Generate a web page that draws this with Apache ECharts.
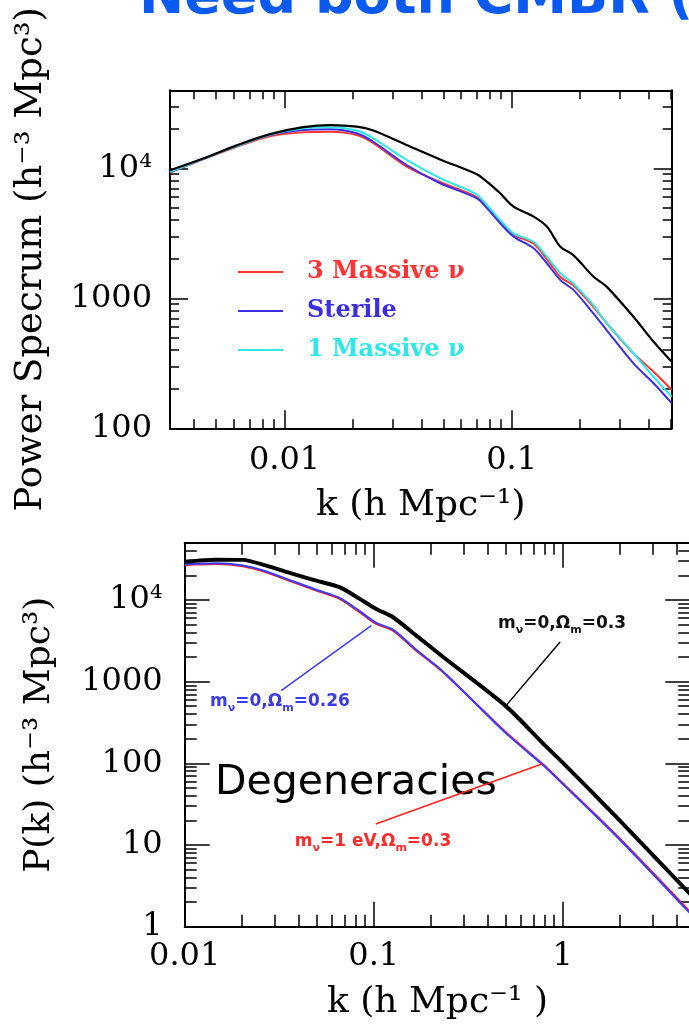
<!DOCTYPE html>
<html>
<head>
<meta charset="utf-8">
<script src="https://cdn.jsdelivr.net/npm/echarts@6/dist/echarts.min.js"></script>
<style>
  html, body { margin: 0; padding: 0; background: #fff; }
  #main { width: 689px; height: 1027px; }
</style>
</head>
<body>
<div id="main"></div>
<script>
// ---------- upper panel: power spectrum, three neutrino models + reference ----------
const kTop = [0.00313, 0.00438, 0.00615, 0.00863, 0.0121, 0.0159, 0.0208, 0.0246, 0.0345, 0.0484, 0.07, 0.0778,
              0.089, 0.102, 0.125, 0.143, 0.164, 0.187, 0.229, 0.262, 0.344, 0.422, 0.507]
const pTopBlack = [9660, 11900, 15000, 18300, 20700, 21500, 20900, 19500, 15100, 11700, 9020, 7890,
                   6430, 5070, 4250, 3560, 2490, 2150, 1470, 1230, 721, 463, 325]
const pTopRed = [9270, 11700, 14600, 17600, 18900, 19100, 18000, 15600, 10300, 7850, 6030, 5010,
                 3890, 3090, 2630, 2000, 1460, 1260, 861, 643, 378, 272, 197]
const pTopBlue = [9330, 11800, 14800, 18000, 19700, 20000, 18600, 16000, 10600, 7670, 5890, 4950,
                  3780, 2980, 2430, 1860, 1380, 1160, 767, 570, 316, 222, 156]
const pTopCyan = [9380, 11800, 14800, 18100, 20300, 20700, 19500, 17000, 11600, 8410, 6310, 5220,
                  4000, 3160, 2720, 2090, 1560, 1300, 887, 643, 378, 249, 175]
const topNames = ['3 Massive ν', 'Sterile', '1 Massive ν']
const topKRange = [0.00313, 0.507]
const topPRange = [100, 39800]
const topKTicks = [0.01, 0.1]
const topKLabels = ['0.01', '0.1']
const topPTicks = [100, 1000, 10000]
const topPLabels = ['100', '1000', '10⁴']

// ---------- lower panel: degeneracies ----------
const kBot = [0.01, 0.0147, 0.0203, 0.027, 0.0374, 0.0497, 0.066, 0.0843, 0.103, 0.1265, 0.168, 0.233,
              0.5, 0.8, 1.0, 2.0, 4.73]
const pBotBlack = [29400, 31100, 30900, 26300, 20800, 17200, 14300, 10300, 7760, 6140, 3660, 2000,
                   501, 168, 102, 20, 2.5]
const pBotRed = [26800, 27500, 25800, 21800, 16500, 13000, 10300, 7080, 5080, 4210, 2390, 1300,
                 240, 94, 57, 12, 1.51]
const pBotBlue = [27200, 28000, 26300, 22300, 16900, 13300, 10600, 7280, 5220, 4320, 2450, 1320,
                  234, 92, 56, 11.7, 1.45]
const botKRange = [0.01, 4.73]
const botPRange = [1, 50000]
const botKTicks = [0.01, 0.1, 1]
const botKLabels = ['0.01', '0.1', '1']
const botPTicks = [1, 10, 100, 1000, 10000]
const botPLabels = ['1', '10', '100', '1000', '10⁴']
// annotation arrows: [k, P] start -> end
const arrowBlue = [[0.0324, 776], [0.097, 4840]]
const arrowBlack = [[0.968, 3060], [0.505, 519]]
const arrowRed = [[0.1025, 18.1], [0.775, 98]]

const lg = Math.log10
const toPts = (ks, ps) => ks.map((k, i) => [lg(k), lg(ps[i])])
const SERIF = '"DejaVu Serif", "Liberation Serif", serif'

// 2..9 x 10^n inside the range (log values)
function minorTicks(range) {
    const out = []
    for (let e = Math.floor(lg(range[0])); e <= Math.ceil(lg(range[1])); e++) {
        for (let m = 2; m <= 9; m++) {
            const v = m * Math.pow(10, e)
            if (v >= range[0] && v <= range[1]) out.push(lg(v))
        }
    }
    return out
}

// four axes for one side pair: major+minor on bottom/left, major+minor on top/right
function makeAxes(dim, gridIndex, range, ticks, labels, o) {
    const pos = dim === 'x' ? ['bottom', 'top'] : ['left', 'right']
    const tickVals = ticks.map(lg)
    const minors = minorTicks(range)
    const base = {type: 'value', gridIndex, min: lg(range[0]), max: lg(range[1]), splitLine: {show: false}}
    const line = {show: true, onZero: false, lineStyle: {color: '#000', width: 2}}
    const noLine = {show: false, onZero: false}
    const tick = (vals, len) => ({show: true, inside: true, length: len, customValues: vals,
                                  lineStyle: {color: '#000', width: 1.5}})
    const fmt = v => {
        const i = tickVals.findIndex(t => Math.abs(t - v) < 1e-6)
        return i < 0 ? '' : labels[i]
    }
    const main = Object.assign({}, base, {
        position: pos[0], axisLine: line, axisTick: tick(tickVals, o.major),
        axisLabel: {customValues: tickVals, formatter: fmt, margin: o.margin,
                    fontFamily: SERIF, fontSize: 32, color: '#000'},
        name: o.name, nameLocation: 'middle', nameGap: o.nameGap,
        nameTextStyle: {fontFamily: SERIF, fontSize: o.nameSize, color: '#000'}
    })
    if (dim === 'y') main.nameRotate = 90
    return [
        main,
        Object.assign({}, base, {position: pos[0], axisLine: noLine, axisTick: tick(minors, o.minor), axisLabel: {show: false}}),
        Object.assign({}, base, {position: pos[1], axisLine: line, axisTick: tick(tickVals, o.major), axisLabel: {show: false}}),
        Object.assign({}, base, {position: pos[1], axisLine: noLine, axisTick: tick(minors, o.minor), axisLabel: {show: false}})
    ]
}

const xAxes = [].concat(
    makeAxes('x', 0, topKRange, topKTicks, topKLabels, {major: 18, minor: 9, margin: 16, name: 'k (h Mpc⁻¹)', nameGap: 59, nameSize: 36}),
    makeAxes('x', 1, botKRange, botKTicks, botKLabels, {major: 25, minor: 12, margin: 14, name: 'k (h Mpc⁻¹ )', nameGap: 58, nameSize: 36})
)
const yAxes = [].concat(
    makeAxes('y', 0, topPRange, topPTicks, topPLabels, {major: 18, minor: 9, margin: 18, name: 'Power Specrum (h⁻³ Mpc³)', nameGap: 120, nameSize: 37}),
    makeAxes('y', 1, botPRange, botPTicks, botPLabels, {major: 25, minor: 12, margin: 22, name: 'P(k) (h⁻³ Mpc³)', nameGap: 127, nameSize: 36})
)

function line(name, axis, ks, ps, color, width, smooth) {
    return {
        type: 'line', name, xAxisIndex: axis, yAxisIndex: axis, data: toPts(ks, ps),
        symbol: 'none', silent: true, smooth,
        lineStyle: {color, width}, itemStyle: {color}
    }
}
function arrow(pair, color) {
    return {
        silent: true, symbol: ['none', 'arrow'], symbolSize: [0, 12],
        label: {show: false}, lineStyle: {color, width: 1.5, type: 'solid'},
        data: [[{coord: [lg(pair[0][0]), lg(pair[0][1])]}, {coord: [lg(pair[1][0]), lg(pair[1][1])]}]]
    }
}

const topColors = ['#ff3535', '#3b2fe0', '#2ee8e8']
const series = [
    line(topNames[0], 0, kTop, pTopRed, topColors[0], 2, 0.3),
    line(topNames[1], 0, kTop, pTopBlue, topColors[1], 2, 0.3),
    line(topNames[2], 0, kTop, pTopCyan, topColors[2], 2, 0.3),
    line('reference', 0, kTop, pTopBlack, '#000', 2.2, 0.3),
    line('mnu=1', 4, kBot, pBotRed, '#ff1a1a', 2, 0.25),
    line('Om=0.26', 4, kBot, pBotBlue, '#3b3bff', 2, 0.25),
    line('Om=0.3', 4, kBot, pBotBlack, '#000', 4, 0.25)
]
series[4].markLine = arrow(arrowRed, '#ff2020')
series[5].markLine = arrow(arrowBlue, '#3b3bff')
series[6].markLine = arrow(arrowBlack, '#000')

// subscripted annotation text
function subLabel(parts, color, x, y) {
    const text = parts.map((p, i) => (i % 2 ? '{s|' : '{n|') + p + '}').join('')
    return {
        type: 'text', x, y, silent: true,
        style: {
            text, align: 'center', verticalAlign: 'middle', fill: color,
            rich: {
                n: {fontFamily: 'DejaVu Sans', fontWeight: 'bold', fontSize: 17, lineHeight: 20, verticalAlign: 'top', fill: color},
                s: {fontFamily: 'DejaVu Sans', fontWeight: 'bold', fontSize: 11, lineHeight: 12, padding: [10, 0, 0, 0], verticalAlign: 'top', fill: color}
            }
        }
    }
}

const chart = echarts.init(document.getElementById('main'), null, {renderer: 'canvas'})
chart.setOption({
    animation: false,
    backgroundColor: '#fff',
    grid: [
        {left: 170, top: 90.3, width: 501.7, height: 338, containLabel: false, outerBoundsMode: 'none'},
        {left: 184.7, top: 542.8, width: 505.6, height: 383.9, containLabel: false, outerBoundsMode: 'none'}
    ],
    xAxis: xAxes,
    yAxis: yAxes,
    legend: {
        data: topNames.map((n, i) => ({name: n, textStyle: {color: topColors[i]}})),
        orient: 'vertical', left: 238, top: 260, padding: 0,
        icon: 'rect', itemWidth: 45, itemHeight: 2, itemGap: 15, selectedMode: false,
        textStyle: {fontFamily: SERIF, fontSize: 24, fontWeight: 'bold', lineHeight: 24, padding: [0, 0, 0, 19]}
    },
    graphic: [
        {type: 'text', left: 139, top: -28, silent: true,
         style: {text: 'Need both CMBR (', font: 'bold 54px "DejaVu Sans"', fill: '#0a5af0'}},
        {type: 'text', left: 215, top: 763, silent: true,
         style: {text: 'Degeneracies', font: '41px "DejaVu Sans"', fill: '#000'}},
        subLabel(['m', 'ν', '=0,Ω', 'm', '=0.3'], '#111', 562, 625),
        subLabel(['m', 'ν', '=0,Ω', 'm', '=0.26'], '#3a3ae6', 280, 703),
        subLabel(['m', 'ν', '=1 eV,Ω', 'm', '=0.3'], '#ff2b2b', 373, 843)
    ],
    series
})
</script>
</body>
</html>
